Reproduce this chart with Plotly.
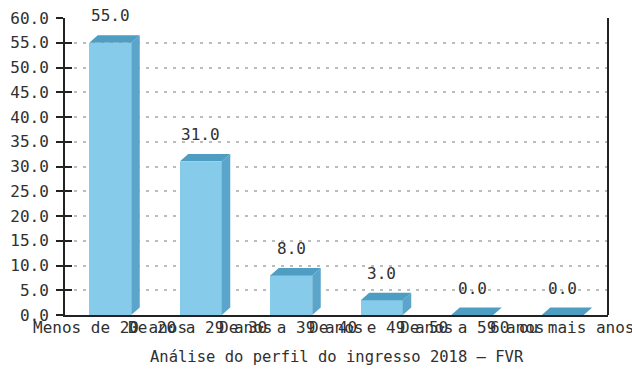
import plotly.graph_objects as go

# Faixas etárias dos ingressantes e percentuais
categorias = ["Menos de 20 anos", "De 20 a 29 anos", "De 30 a 39 anos",
              "De 40 e 49 anos", "De 50 a 59 anos", "60 ou mais anos"]
valores = [55.0, 31.0, 8.0, 3.0, 0.0, 0.0]
y_ticks = [0, 5, 10, 15, 20, 25, 30, 35, 40, 45, 50, 55, 60]
titulo = "Análise do perfil do ingresso 2018 – FVR"

FONT = "DejaVu Sans Mono"
TXT = "#303030"
W, H = 632, 369
M_L, M_R, M_T, M_B = 65, 24, 18, 54

x_range = [-0.5, len(categorias) - 0.5]
y_range = [0, 60]
px_x = (W - M_L - M_R) / (x_range[1] - x_range[0])
px_y = (H - M_T - M_B) / (y_range[1] - y_range[0])

bar_w = 42 / px_x          # front face width in axis units
dx = 8.5 / px_x            # depth offset (right)
dy = 7.5 / px_y            # depth offset (up)

FRONT = "#87CBEA"
TOP = "#4E9DC2"
SIDE = "#5AA5C9"

xs = list(range(len(categorias)))

fig = go.Figure()

# front faces
fig.add_trace(go.Bar(x=xs, y=valores, width=bar_w, marker=dict(color=FRONT, line=dict(width=0)),
                     hoverinfo="skip", showlegend=False))

# side and top faces built from the same values
side_x, side_y, top_x, top_y = [], [], [], []
for x, v in zip(xs, valores):
    l, r = x - bar_w / 2, x + bar_w / 2
    side_x += [r, r + dx, r + dx, r, r, None]
    side_y += [0, dy, v + dy, v, 0, None]
    top_x += [l, l + dx, r + dx, r, l, None]
    top_y += [v, v + dy, v + dy, v, v, None]

fig.add_trace(go.Scatter(x=side_x, y=side_y, mode="lines", fill="toself", fillcolor=SIDE,
                         line=dict(width=0, color=SIDE), hoverinfo="skip", showlegend=False))
fig.add_trace(go.Scatter(x=top_x, y=top_y, mode="lines", fill="toself", fillcolor=TOP,
                         line=dict(width=0, color=TOP), hoverinfo="skip", showlegend=False))

# value labels above each bar
for x, v in zip(xs, valores):
    fig.add_annotation(x=x, y=v, text=f"{v:.1f}", showarrow=False, yanchor="bottom",
                       yshift=7.5 + 8, font=dict(family=FONT, size=16, color=TXT))

# category labels under each bar (drawn as text so the long ones can overlap)
for x, c in zip(xs, categorias):
    fig.add_annotation(x=x, xref="x", y=0, yref="paper", text=c, showarrow=False,
                       yanchor="top", yshift=-1, font=dict(family=FONT, size=16, color=TXT))

# axis title
fig.add_annotation(x=0.5, xref="paper", y=0, yref="paper", text=titulo, showarrow=False,
                   yanchor="top", yshift=-31, font=dict(family=FONT, size=15.5, color=TXT))

# right border of the plot area
fig.add_shape(type="line", xref="paper", yref="paper", x0=1, x1=1, y0=0, y1=1,
              line=dict(color="#222", width=2))

fig.update_layout(
    width=W, height=H,
    margin=dict(l=M_L, r=M_R, t=M_T, b=M_B, autoexpand=False),
    paper_bgcolor="white", plot_bgcolor="white",
    font=dict(family=FONT, size=16, color=TXT),
    bargap=0,
    xaxis=dict(
        range=x_range, tickmode="array", tickvals=xs, showticklabels=False,
        showgrid=False, zeroline=False, automargin=False,
        showline=True, linecolor="#222", linewidth=2, layer="below traces",
        ticks="",
    ),
    yaxis=dict(
        range=y_range, tickmode="array", tickvals=y_ticks,
        ticktext=[f"{t:.1f}" for t in y_ticks], automargin=False,
        showgrid=True, gridcolor="#bcbcbc", griddash="3px,6px", gridwidth=1.5,
        zeroline=False, showline=True, linecolor="#222", linewidth=2,
        ticks="outside", ticklen=7, tickwidth=2, tickcolor="#222",
        ticklabelstandoff=4,
        tickfont=dict(family=FONT, size=16, color=TXT),
    ),
    yaxis2=dict(
        overlaying="y", side="left", range=y_range, tickmode="array", tickvals=y_ticks,
        showticklabels=False, showgrid=False, zeroline=False, showline=False,
        ticks="inside", ticklen=7, tickwidth=2, tickcolor="#222", automargin=False,
    ),
)

# invisible trace so the overlay axis is drawn
fig.add_trace(go.Scatter(x=[None], y=[None], yaxis="y2", showlegend=False, hoverinfo="skip"))

fig.write_html("out.html")
